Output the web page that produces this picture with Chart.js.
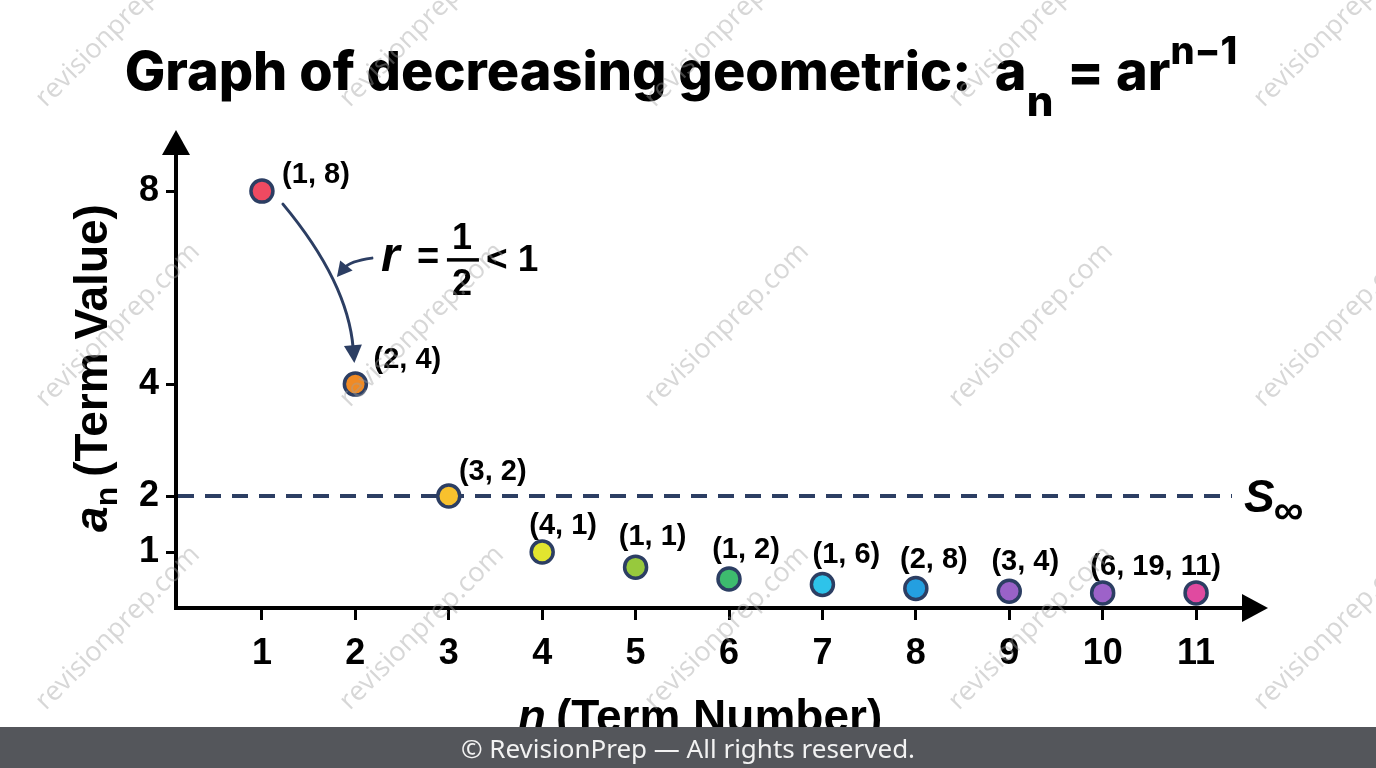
<!DOCTYPE html>
<html>
<head>
<meta charset="utf-8">
<script src="https://cdn.jsdelivr.net/npm/chart.js@4.4.1/dist/chart.umd.min.js"></script>
<style>
  html, body { margin: 0; padding: 0; background: #fff; overflow: hidden; }
  #wrap { width: 1376px; height: 768px; }
</style>
</head>
<body>
<div id="wrap"><canvas id="chart" width="1376" height="768"></canvas></div>
<script>
// data
const termNumbers = [1, 2, 3, 4, 5, 6, 7, 8, 9, 10, 11];
const termValues = [8, 4, 2, 1, 0.73, 0.52, 0.42, 0.35, 0.30, 0.27, 0.27];
const pointLabels = ["(1, 8)", "(2, 4)", "(3, 2)", "(4, 1)", "(1, 1)", "(1, 2)", "(1, 6)", "(2, 8)", "(3, 4)", "(6, 19, 11)", ""];
const yTickValues = [1, 2, 4, 8];
const sumToInfinity = 2;

const pointColors = ["#ef4a61", "#f08a24", "#f8c12d", "#e2e52f", "#97c93d", "#3dbb6e",
                     "#2ec3ea", "#249fe0", "#9a62c8", "#9d62c9", "#e04aa0"];
const NAVY = "#2c3e63";
const LABEL_FONT = "'Liberation Sans', Arial, sans-serif";

// label placement (dx from point, dy of baseline from point)
const labelOffsets = [[54, -8], [52, -16], [44, -16], [21, -18], [17, -22], [17, -21],
                      [24, -21], [18, -20], [16, -21], [53, -18], [0, 0]];

// the picture squeezes the axis above 4
const BREAK = 4, SQUEEZE = 0.862;
function warp(v) { return v <= BREAK ? v : BREAK + (v - BREAK) * SQUEEZE; }
function unwarp(w) { return w <= BREAK ? w : BREAK + (w - BREAK) / SQUEEZE; }

class WarpScale extends Chart.LinearScale {
  getPixelForValue(v) { return super.getPixelForValue(v === null || v === undefined ? v : warp(v)); }
  getValueForPixel(p) { return unwarp(super.getValueForPixel(p)); }
}
WarpScale.id = "warp";
WarpScale.defaults = Chart.LinearScale.defaults;
Chart.register(WarpScale);

function richWidth(ctx, segs) {
  let w = 0;
  segs.forEach(s => { ctx.font = s.font; w += ctx.measureText(s.text).width + (s.gap || 0); });
  return w;
}
function drawRich(ctx, segs, x, y, align) {
  const w = richWidth(ctx, segs);
  let cx = align === "center" ? x - w / 2 : x;
  ctx.textAlign = "left";
  segs.forEach(s => {
    ctx.font = s.font;
    ctx.fillText(s.text, cx, y + (s.dy || 0));
    cx += ctx.measureText(s.text).width + (s.gap || 0);
  });
}
function arrowHead(ctx, tip, from, len, half) {
  const dx = tip.x - from.x, dy = tip.y - from.y;
  const d = Math.hypot(dx, dy), ux = dx / d, uy = dy / d;
  ctx.beginPath();
  ctx.moveTo(tip.x, tip.y);
  ctx.lineTo(tip.x - ux * len - uy * half, tip.y - uy * len + ux * half);
  ctx.lineTo(tip.x - ux * len + uy * half, tip.y - uy * len - ux * half);
  ctx.closePath();
  ctx.fill();
  return { x: tip.x - ux * len * 0.8, y: tip.y - uy * len * 0.8 };
}
function curvedArrow(ctx, s, c, e, len, half) {
  const stop = arrowHead(ctx, e, c, len, half);
  ctx.beginPath();
  ctx.moveTo(s.x, s.y);
  ctx.quadraticCurveTo(c.x, c.y, stop.x, stop.y);
  ctx.stroke();
}

const decor = {
  id: "decor",
  beforeDraw(chart) {
    const ctx = chart.ctx;
    ctx.save();
    ctx.fillStyle = "#fff";
    ctx.fillRect(0, 0, chart.width, chart.height);
    ctx.restore();
  },
  beforeDatasetsDraw(chart) {
    const ctx = chart.ctx, a = chart.chartArea;
    const ys = chart.scales.y;
    ctx.save();
    // S infinity dashed line
    const yl = ys.getPixelForValue(sumToInfinity);
    ctx.strokeStyle = NAVY;
    ctx.lineWidth = 4;
    ctx.setLineDash([16, 11]);
    ctx.beginPath();
    ctx.moveTo(a.left + 2, yl);
    ctx.lineTo(a.right - 36, yl);
    ctx.stroke();
    ctx.setLineDash([]);
    ctx.fillStyle = "#000";
    drawRich(ctx, [
      { text: "S", font: `italic bold 46px ${LABEL_FONT}`, gap: -1 },
      { text: "\u221E", font: `bold 42px ${LABEL_FONT}`, dy: 12 }
    ], a.right - 24, yl + 16, "left");

    // axes with arrows
    ctx.strokeStyle = "#000";
    ctx.fillStyle = "#000";
    ctx.lineWidth = 4;
    ctx.beginPath();
    ctx.moveTo(a.left, a.bottom + 2);
    ctx.lineTo(a.left, a.top + 20);
    ctx.moveTo(a.left - 2, a.bottom);
    ctx.lineTo(a.right - 20, a.bottom);
    ctx.stroke();
    arrowHead(ctx, { x: a.left, y: a.top }, { x: a.left, y: a.top + 50 }, 25, 14);
    arrowHead(ctx, { x: a.right, y: a.bottom }, { x: a.right - 50, y: a.bottom }, 26, 14);
    ctx.restore();
  },
  afterDatasetsDraw(chart) {
    const ctx = chart.ctx;
    const xs = chart.scales.x, ys = chart.scales.y;
    ctx.save();
    // point labels
    ctx.fillStyle = "#000";
    ctx.font = `bold 29px ${LABEL_FONT}`;
    ctx.textAlign = "center";
    ctx.textBaseline = "alphabetic";
    termNumbers.forEach((n, i) => {
      if (!pointLabels[i]) return;
      const px = xs.getPixelForValue(n), py = ys.getPixelForValue(termValues[i]);
      ctx.fillText(pointLabels[i], px + labelOffsets[i][0], py + labelOffsets[i][1]);
    });

    // ratio arrow between first two terms
    const p1 = { x: xs.getPixelForValue(termNumbers[0]), y: ys.getPixelForValue(termValues[0]) };
    const p2 = { x: xs.getPixelForValue(termNumbers[1]), y: ys.getPixelForValue(termValues[1]) };
    ctx.strokeStyle = NAVY;
    ctx.fillStyle = NAVY;
    ctx.lineWidth = 3;
    ctx.lineCap = "round";
    curvedArrow(ctx, { x: p1.x + 21, y: p1.y + 13 }, { x: p1.x + 86, y: p1.y + 91 },
                { x: p2.x - 1, y: p2.y - 21 }, 18, 9);
    curvedArrow(ctx, { x: p1.x + 110, y: p1.y + 67 }, { x: p1.x + 88, y: p1.y + 70 },
                { x: p1.x + 75, y: p1.y + 86 }, 15, 8);

    // r = 1/2 < 1
    ctx.fillStyle = "#000";
    const base = p1.y + 80;
    ctx.textAlign = "left";
    ctx.font = `italic bold 48px ${LABEL_FONT}`;
    ctx.fillText("r", p1.x + 119, base);
    ctx.font = `bold 38px ${LABEL_FONT}`;
    ctx.fillText("=", p1.x + 155, base - 2);
    ctx.textAlign = "center";
    ctx.font = `bold 36px ${LABEL_FONT}`;
    ctx.fillText("1", p1.x + 200, base - 22);
    ctx.fillText("2", p1.x + 200, base + 24);
    ctx.fillRect(p1.x + 185, base - 13, 32, 3.5);
    ctx.textAlign = "left";
    ctx.font = `bold 37px ${LABEL_FONT}`;
    ctx.fillText("< 1", p1.x + 224, base);
    ctx.restore();
  },
  afterDraw(chart) {
    const ctx = chart.ctx, a = chart.chartArea;
    ctx.save();
    ctx.fillStyle = "#000";
    ctx.textBaseline = "alphabetic";
    // title
    drawRich(ctx, [
      { text: "Graph of decreasing geometric:  a", font: "800 54px Inter, 'Noto Sans', sans-serif" },
      { text: "n", font: "800 42px Inter, 'Noto Sans', sans-serif", dy: 26, gap: 2 },
      { text: " = ar", font: "800 54px Inter, 'Noto Sans', sans-serif" },
      { text: "n\u22121", font: "800 38px Inter, 'Noto Sans', sans-serif", dy: -26 }
    ], 681, 90, "center");

    // axis titles
    drawRich(ctx, [
      { text: "n", font: `italic bold 46px ${LABEL_FONT}`, gap: 10 },
      { text: "(Term Number)", font: `bold 46px ${LABEL_FONT}` }
    ], (a.left + a.right) / 2 - 22, 732, "center");
    ctx.save();
    ctx.translate(107, 368);
    ctx.rotate(-Math.PI / 2);
    drawRich(ctx, [
      { text: "a", font: `italic bold 46px ${LABEL_FONT}` },
      { text: "n", font: `bold 32px ${LABEL_FONT}`, dy: 10, gap: 10 },
      { text: "(Term Value)", font: `bold 46px ${LABEL_FONT}` }
    ], 0, 0, "center");
    ctx.restore();

    // watermark
    ctx.font = "27px 'Open Sans', 'Noto Sans', sans-serif";
    ctx.fillStyle = "rgba(160,160,160,0.42)";
    ctx.textAlign = "center";
    ctx.textBaseline = "middle";
    [25, 325, 628].forEach(wy => {
      [118, 422, 727, 1031, 1336].forEach(wx => {
        ctx.save();
        ctx.translate(wx, wy);
        ctx.rotate(-45 * Math.PI / 180);
        ctx.fillText("revisionprep.com", 0, 0);
        ctx.restore();
      });
    });

    // footer
    ctx.fillStyle = "#54565b";
    ctx.fillRect(0, 727, chart.width, chart.height - 727);
    ctx.fillStyle = "#f2f2f2";
    ctx.font = "26px 'Noto Sans', 'Open Sans', sans-serif";
    ctx.textBaseline = "alphabetic";
    ctx.textAlign = "center";
    ctx.fillText("\u00A9 RevisionPrep \u2014 All rights reserved.", chart.width / 2, 758);
    ctx.restore();
  }
};

const ctx = document.getElementById("chart").getContext("2d");
new Chart(ctx, {
  type: "scatter",
  data: {
    datasets: [{
      data: termNumbers.map((n, i) => ({ x: n, y: termValues[i] })),
      pointRadius: 11,
      pointHoverRadius: 11,
      pointBackgroundColor: pointColors,
      pointBorderColor: NAVY,
      pointBorderWidth: 3.5,
      showLine: false
    }]
  },
  options: {
    responsive: false,
    devicePixelRatio: 1,
    animation: false,
    events: [],
    layout: { padding: { top: 130, right: 108, bottom: 0, left: 0 } },
    plugins: { legend: { display: false }, tooltip: { enabled: false } },
    scales: {
      x: {
        type: "linear",
        min: 0.08,
        max: 11.77,
        afterBuildTicks: s => { s.ticks = termNumbers.map(v => ({ value: v })); },
        afterFit: s => { s.height = 160; },
        border: { display: false },
        grid: { drawOnChartArea: false, drawTicks: true, tickLength: 12, tickWidth: 3, tickColor: "#000" },
        ticks: { color: "#000", font: { family: LABEL_FONT, size: 36, weight: "bold" }, padding: 12, maxRotation: 0, autoSkip: false }
      },
      y: {
        type: "warp",
        min: 0,
        max: 8.54,
        afterBuildTicks: s => { s.ticks = yTickValues.map(v => ({ value: v })); },
        afterFit: s => { s.width = 176; },
        border: { display: false },
        grid: { drawOnChartArea: false, drawTicks: true, tickLength: 10, tickWidth: 3, tickColor: "#000" },
        ticks: { color: "#000", font: { family: LABEL_FONT, size: 36, weight: "bold" }, padding: 7 }
      }
    }
  },
  plugins: [decor]
});
</script>
</body>
</html>
